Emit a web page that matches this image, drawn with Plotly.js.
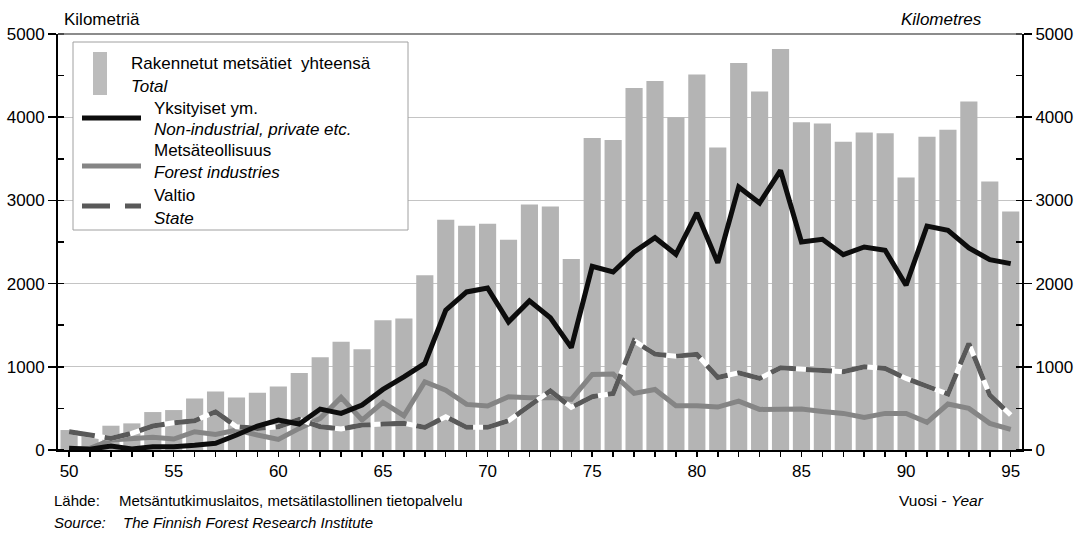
<!DOCTYPE html>
<html><head><meta charset="utf-8">
<script src="https://cdn.plot.ly/plotly-3.0.1.min.js"></script>
<style>html,body{margin:0;padding:0;background:#fff}</style>
</head><body>
<div id="chart" style="width:1078px;height:536px"></div>
<script>
const years = [1950,1951,1952,1953,1954,1955,1956,1957,1958,1959,
  1960,1961,1962,1963,1964,1965,1966,1967,1968,1969,
  1970,1971,1972,1973,1974,1975,1976,1977,1978,1979,
  1980,1981,1982,1983,1984,1985,1986,1987,1988,1989,
  1990,1991,1992,1993,1994,1995];
const total = [240,180,292,320,456,480,620,704,632,688,
  764,924,1116,1300,1212,1560,1580,2100,2768,2696,
  2720,2528,2952,2928,2296,3750,3726,4351,4435,4000,
  4512,3636,4652,4308,4820,3940,3924,3704,3816,3808,
  3276,3764,3848,4188,3228,2868];
const privateEtc = [20,8,48,12,40,40,56,80,180,288,
  360,312,492,440,540,728,880,1040,1680,1900,
  1948,1540,1792,1590,1230,2208,2140,2380,2552,2352,
  2850,2250,3160,2968,3360,2500,2532,2348,2440,2400,
  1980,2692,2640,2428,2288,2240];
const industry = [10,20,120,140,152,132,220,188,240,180,
  128,260,380,632,360,572,412,820,720,548,
  528,640,628,632,608,908,912,680,728,532,
  532,516,588,488,492,492,464,440,392,440,
  440,332,552,500,320,248];
const state = [220,180,140,200,288,328,352,460,280,260,
  280,368,280,252,300,312,320,272,400,272,
  272,352,528,712,512,640,680,1312,1152,1128,
  1150,872,928,860,988,968,960,940,1000,980,
  860,760,672,1280,660,420];
const labelYears = [1950,1955,1960,1965,1970,1975,1980,1985,1990,1995];
const labelTexts = ['50','55','60','65','70','75','80','85','90','95'];

const FONT = 'Liberation Sans, Arial, sans-serif';
const barColor = '#b4b4b4';
const blackColor = '#0d0d0d';
const industryColor = '#858585';
const stateColor = '#595959';

const traces = [
  {type:'bar', x:years, y:total, marker:{color:barColor, line:{width:0}}, yaxis:'y', hoverinfo:'skip'},
  {type:'scatter', mode:'lines', x:years, y:industry, yaxis:'y2', line:{color:industryColor, width:5}},
  {type:'scatter', mode:'lines', x:years, y:state, yaxis:'y2', line:{color:'#ffffff', width:5}},
  {type:'scatter', mode:'lines', x:years, y:state, yaxis:'y2', line:{color:stateColor, width:5, dash:'26px,10px'}},
  {type:'scatter', mode:'lines', x:years, y:privateEtc, yaxis:'y2', line:{color:blackColor, width:5}}
];

const L = 58, R = 1022, T = 34, B = 450;
function px(x){ return (x - L) / (R - L); }
function py(y){ return (B - y) / (B - T); }
function txt(text, x, y, size, anchor){
  return {text:text, xref:'paper', yref:'paper', x:px(x), y:py(y), xanchor:anchor||'left', yanchor:'middle',
    showarrow:false, font:{family:FONT, size:size, color:'#000'}};
}
function hline(x0, x1, y, color, width, dash){
  return {type:'line', xref:'paper', yref:'paper', x0:px(x0), x1:px(x1), y0:py(y), y1:py(y),
    line:{color:color, width:width, dash:dash||'solid'}, layer:'above'};
}

const shapes = [
  {type:'line', xref:'paper', yref:'paper', x0:0, x1:1, y0:1, y1:1, line:{color:'#666', width:1.5}, layer:'above'},
  {type:'rect', xref:'paper', yref:'paper', x0:px(73), x1:px(408), y0:py(230), y1:py(42),
    fillcolor:'#ffffff', line:{color:'#a0a0a0', width:1}, layer:'above'},
  {type:'rect', xref:'paper', yref:'paper', x0:px(93), x1:px(107), y0:py(95), y1:py(52),
    fillcolor:'#bcbcbc', line:{width:0}, layer:'above'},
  hline(82, 141, 118, blackColor, 5),
  hline(82, 141, 166, industryColor, 5),
  hline(82, 141, 206, stateColor, 5, '28px,15px')
];

const annotations = [
  txt('Kilometriä', 62, 19, 17),
  txt('<i>Kilometres</i>', 984, 19, 17, 'right'),
  txt('Rakennetut metsätiet \u00a0yhteensä', 129, 64, 17),
  txt('<i>Total</i>', 129, 86, 17),
  txt('Yksityiset ym.', 152, 108, 17),
  txt('<i>Non-industrial, private etc.</i>', 152, 129, 17),
  txt('Metsäteollisuus', 152, 150, 17),
  txt('<i>Forest industries</i>', 152, 172, 17),
  txt('Valtio', 152, 196, 17),
  txt('<i>State</i>', 152, 218, 17),
  txt('Lähde:', 52, 501, 15),
  txt('Metsäntutkimuslaitos, metsätilastollinen tietopalvelu', 117, 501, 15),
  txt('<i>Source:</i>', 52, 522, 15),
  txt('<i>The Finnish Forest Research Institute</i>', 121, 522, 15),
  txt('Vuosi - <i>Year</i>', 986, 501, 15.5, 'right')
];

const yCommon = {
  range:[0,5000], dtick:1000, tick0:0, ticks:'outside', ticklen:8, tickwidth:1.5, tickcolor:'#000',
  showline:true, linecolor:'#000', linewidth:2, zeroline:false,
  tickfont:{family:FONT, size:17, color:'#000'},
  minor:{dtick:500, tick0:0, ticks:'inside', ticklen:6, tickwidth:1.5, tickcolor:'#000', showgrid:false},
  fixedrange:true
};

const layout = {
  width:1078, height:536,
  margin:{l:58, r:56, t:34, b:86, pad:0},
  paper_bgcolor:'#ffffff', plot_bgcolor:'#ffffff',
  showlegend:false, bargap:0.18,
  font:{family:FONT, size:17, color:'#000'},
  xaxis:{
    range:[1949.47, 1995.54], tickmode:'array', tickvals:labelYears, ticktext:labelTexts,
    ticks:'outside', ticklen:5, tickwidth:1.5, tickcolor:'#000',
    showline:true, linecolor:'#000', linewidth:2, showgrid:false, zeroline:false,
    tickfont:{family:FONT, size:17, color:'#000'},
    minor:{dtick:1, tick0:1950, ticks:'outside', ticklen:5, tickwidth:1.5, tickcolor:'#000', showgrid:false},
    fixedrange:true
  },
  yaxis:Object.assign({}, yCommon, {showgrid:true, gridcolor:'#c4c4c4', gridwidth:1}),
  yaxis2:Object.assign({}, yCommon, {overlaying:'y', side:'right', showgrid:false}),
  shapes:shapes,
  annotations:annotations
};

Plotly.newPlot('chart', traces, layout, {staticPlot:true, displayModeBar:false});
</script>
</body></html>
